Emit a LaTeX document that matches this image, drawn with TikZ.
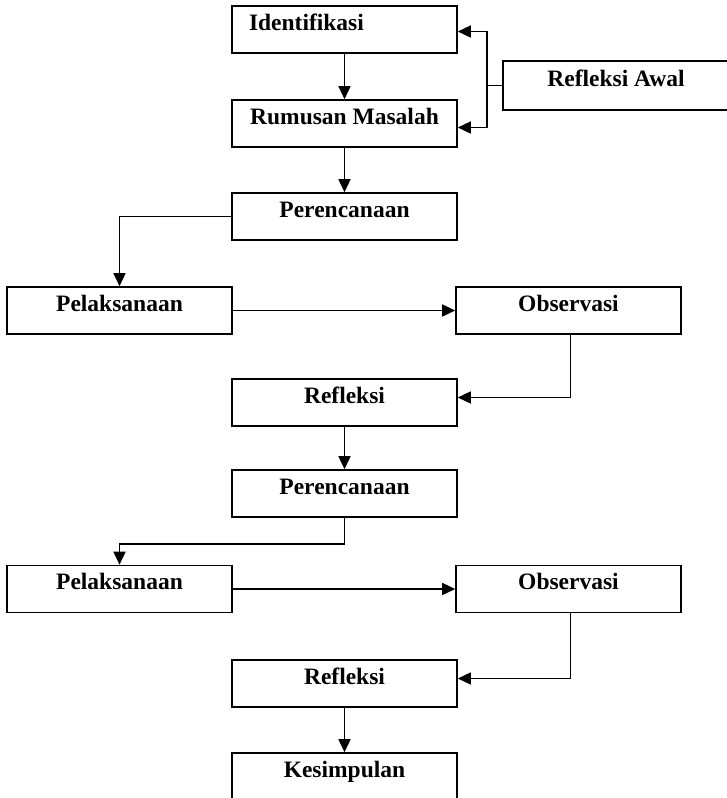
\documentclass[tikz,border=0pt]{standalone}
\usepackage{fontspec}
\setmainfont{Liberation Serif}
\usepackage{tikz}
\usetikzlibrary{arrows.meta}

\begin{document}
\begin{tikzpicture}[x=1pt,y=-1pt]
\tikzstyle{every node}=[draw,line width=1.6pt,shape=rectangle,minimum width=225pt,minimum height=47pt,inner sep=0pt,text height=15pt,text depth=14pt,font=\fontsize{23.5}{27}\selectfont\bfseries];
\tikzstyle{arr}=[line width=1.6pt,-{Triangle[length=13pt,width=12pt]}];
\useasboundingbox (0,0) rectangle (726,798);
% kolom tengah
\node (iden) at (344.5,29.5) [align=left,text width=191pt,inner xsep=17pt] {Identifikasi};
\node (rumus) at (344.5,123.5) {Rumusan Masalah};
\node (awal) at (616,85.5) [minimum width=226pt,minimum height=49pt] {Refleksi Awal};
\node (renc1) at (344.5,216.5) {Perencanaan};
\node (laks1) at (119.5,310.5) {Pelaksanaan};
\node (obs1) at (568.5,310.5) {Observasi};
\node (refl1) at (344.5,402.5) {Refleksi};
\node (renc2) at (344.5,493.5) {Perencanaan};
\node (laks2) at (119.5,589) {Pelaksanaan};
\node (obs2) at (568.5,589) {Observasi};
\node (refl2) at (344.5,683.5) {Refleksi};
\node (kes) at (344.5,776.5) {Kesimpulan};
% cabang refleksi awal
\coordinate (cabang) at (487,85.5);
\coordinate (belok) at (344.5,544);
\draw[line width=1.6pt] (awal.west) -- (cabang);
\draw[arr] (cabang) |- ([yshift=-2pt]iden.east);
\draw[arr] (cabang) |- ([yshift=-4pt]rumus.east);
\draw[arr] (iden) -- (rumus);
\draw[arr] (rumus) -- (renc1);
\draw[arr] (renc1.west) -| (laks1.north);
\draw[arr] (laks1.east) -- (obs1.west);
\draw[arr] ([xshift=2pt]obs1.south) |- ([yshift=5pt]refl1.east);
\draw[arr] (refl1) -- (renc2);
\draw[line width=1.6pt] (renc2.south) -- (belok);
\draw[arr] (belok) -| (laks2.north);
\draw[arr] (laks2.east) -- (obs2.west);
\draw[arr] ([xshift=2pt]obs2.south) |- ([yshift=5pt]refl2.east);
\draw[arr] (refl2) -- (kes);
\end{tikzpicture}
\end{document}
